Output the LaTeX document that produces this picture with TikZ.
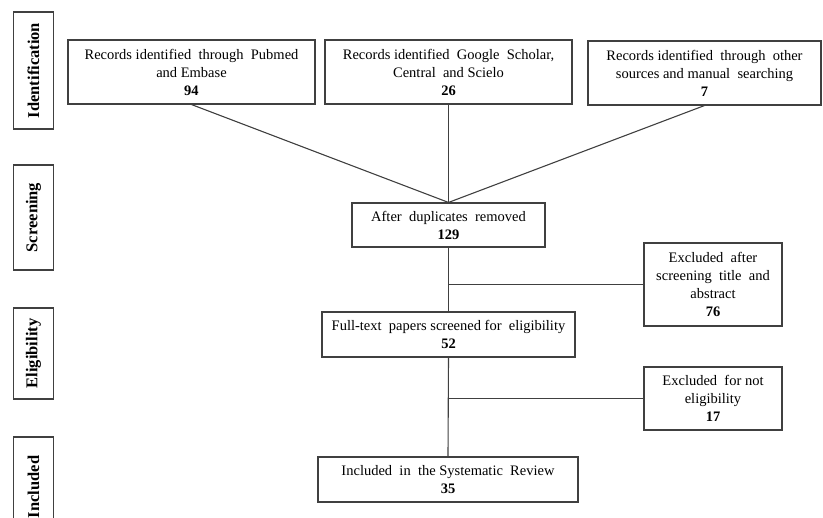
\documentclass[tikz,border=0pt]{standalone}
\usepackage{fontspec}
\setmainfont{Liberation Serif}
\usepackage{tikz}
\usetikzlibrary{calc}
\usetikzlibrary{positioning}

\begin{document}
\begin{tikzpicture}[x=1pt,y=-1pt,
  box/.style={draw=black!75,line width=1.1pt,inner sep=0pt,align=center,
    font=\fontsize{14.5}{18}\selectfont},
  stage/.style={draw=black!75,line width=1.1pt,inner sep=0pt,rotate=90,
    minimum height=40pt,font=\fontsize{16.5}{18}\selectfont\bfseries},
  link/.style={draw=black!75,line width=1.1pt}]
\useasboundingbox (0,0) rectangle (823,518);

% stages on the left
\node[stage,minimum width=117pt] (ident) at (33.5,70.5) {Identification};
\node[stage,minimum width=105pt] (screen) at (33.5,217.5) {Screening};
\node[stage,minimum width=91pt] (elig) at (33.5,353.5) {Eligibility};
\node[stage,minimum width=100pt] (incl) at (33.5,487) {Included};

% records
\node[box,minimum width=247pt,minimum height=64pt] (pubmed) at (191.5,72)
  {Records identified \ through \ Pubmed\\and Embase\\\textbf{94}};
\node[box,minimum width=247pt,minimum height=64pt] (google) at (448.5,72)
  {Records identified \ Google \ Scholar,\\Central \ and Scielo\\\textbf{26}};
\node[box,minimum width=233pt,minimum height=64pt] (other) at (704.5,73)
  {Records identified \ through \ other\\sources and manual \ searching\\\textbf{7}};

\node[box,minimum width=193pt,minimum height=44pt] (dup) at (448.5,225)
  {After \ duplicates \ removed\\\textbf{129}};
\node[box,minimum width=138pt,minimum height=83pt] (excla) at (713,284.5)
  {Excluded \ after\\screening \ title \ and\\abstract\\\textbf{76}};
\node[box,minimum width=253pt,minimum height=45pt] (full) at (448.5,334.5)
  {Full-text \ papers screened for \ eligibility\\\textbf{52}};
\node[box,minimum width=138pt,minimum height=63pt] (exclb) at (713,398.5)
  {Excluded \ for not\\eligibility\\\textbf{17}};
\node[box,minimum width=260pt,minimum height=45pt] (review) at (448,479.5)
  {Included \ in \ the Systematic \ Review\\\textbf{35}};

% connectors
\draw[link] (pubmed.south) -- (dup.north);
\draw[link] (google.south) -- (dup.north);
\draw[link] (other.south) -- (dup.north);
\draw[link] (dup.south) -- (full.north);
\coordinate (ja) at (dup.south |- excla.west);
\draw[link] (ja) -- (excla.west);
\draw[link] (full.south) -- (review.north);
\coordinate (jb) at (full.south |- exclb.west);
\draw[link] (jb) -- (exclb.west);
\end{tikzpicture}
\end{document}
